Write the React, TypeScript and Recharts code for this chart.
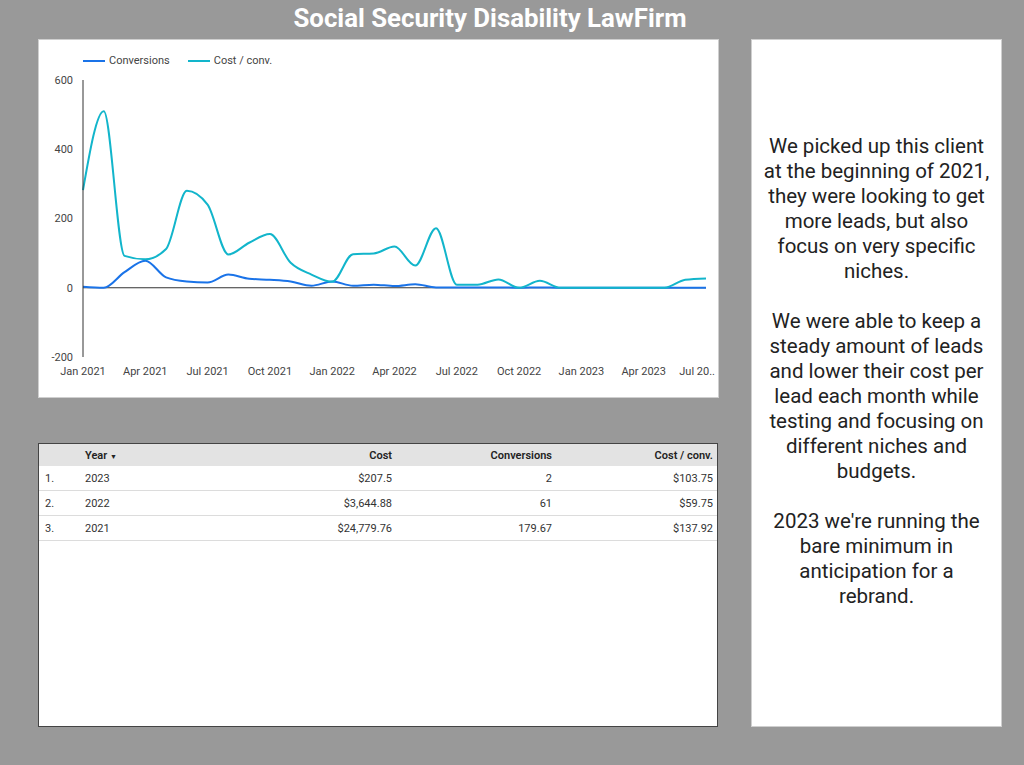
import { LineChart, Line, XAxis, YAxis, ReferenceLine, Legend } from "recharts";

// monthly series, Jan 2021 – Jul 2023
const months = [
  "Jan 2021", "Feb 2021", "Mar 2021", "Apr 2021", "May 2021", "Jun 2021",
  "Jul 2021", "Aug 2021", "Sep 2021", "Oct 2021", "Nov 2021", "Dec 2021",
  "Jan 2022", "Feb 2022", "Mar 2022", "Apr 2022", "May 2022", "Jun 2022",
  "Jul 2022", "Aug 2022", "Sep 2022", "Oct 2022", "Nov 2022", "Dec 2022",
  "Jan 2023", "Feb 2023", "Mar 2023", "Apr 2023", "May 2023", "Jun 2023",
  "Jul 2023",
];
const conversions = [
  3, 0, 45, 78, 30, 18, 15, 38, 26, 23, 18, 6,
  18, 6, 9, 5, 10, 1, 1, 1, 1, 0, 1, 0,
  0, 0, 0, 0, 0, 0, 0,
];
const costPerConv = [
  282, 510, 92, 82, 112, 280, 240, 96, 130, 155, 72, 38,
  17, 97, 99, 119, 64, 172, 9, 9, 24, 0, 20, 0,
  0, 0, 0, 0, 0, 23, 27,
];
const xTicks = [
  "Jan 2021", "Apr 2021", "Jul 2021", "Oct 2021", "Jan 2022", "Apr 2022",
  "Jul 2022", "Oct 2022", "Jan 2023", "Apr 2023", "Jul 2023",
];
const yTicks = [-200, 0, 200, 400, 600];

// table rows
const tableYears = ["2023", "2022", "2021"];
const tableCost = ["$207.5", "$3,644.88", "$24,779.76"];
const tableConversions = ["2", "61", "179.67"];
const tableCostPerConv = ["$103.75", "$59.75", "$137.92"];

const notes = [
  ["We picked up this client", "at the beginning of 2021,", "they were looking to get", "more leads, but also", "focus on very specific", "niches."],
  ["We were able to keep a", "steady amount of leads", "and lower their cost per", "lead each month while", "testing and focusing on", "different niches and", "budgets."],
  ["2023 we're running the", "bare minimum in", "anticipation for a", "rebrand."],
];

const colors = {
  conversions: "#1a73e8",
  costPerConv: "#12b5cb",
};

const chartData = months.map((m, i) => ({
  month: m,
  conversions: conversions[i],
  costPerConv: costPerConv[i],
}));

const font = "Roboto, 'Noto Sans', sans-serif";

const LegendContent = () => (
  <div style={{ display: "flex", fontFamily: font, fontSize: 11, color: "#444" }}>
    {[
      { label: "Conversions", color: colors.conversions },
      { label: "Cost / conv.", color: colors.costPerConv },
    ].map((item) => (
      <div key={item.label} style={{ display: "flex", alignItems: "center", marginRight: 18 }}>
        <svg width={22} height={4} style={{ marginRight: 4 }}>
          <line x1={0} y1={2} x2={22} y2={2} stroke={item.color} strokeWidth={2} />
        </svg>
        <span>{item.label}</span>
      </div>
    ))}
  </div>
);

// last label is shortened and pulled left so it stays inside the panel
const XTick = (props: any) => {
  const { x, y, payload } = props;
  const last = payload.value === xTicks[xTicks.length - 1];
  return (
    <text
      x={last ? x + 9 : x}
      y={y}
      dy={10}
      textAnchor={last ? "end" : "middle"}
      fill="#444"
      fontSize={11}
      fontFamily={font}
    >
      {last ? "Jul 20.." : payload.value}
    </text>
  );
};

const cellBase = {
  padding: "0 4px",
  height: 24,
  borderBottom: "1px solid #dcdcdc",
  whiteSpace: "nowrap" as const,
};

const headCell = {
  ...cellBase,
  height: 22,
  fontWeight: 600,
  borderBottom: "none",
};

const App = () => {
  return (
    <div
      style={{
        position: "fixed",
        left: 0,
        top: 0,
        width: 1024,
        height: 765,
        background: "#999999",
        fontFamily: font,
        overflow: "hidden",
      }}
    >
      <div
        style={{
          position: "absolute",
          left: 0,
          top: 3,
          width: 980,
          textAlign: "center",
          color: "#fff",
          fontWeight: 700,
          fontSize: 25.8,
          lineHeight: "31px",
        }}
      >
        Social Security Disability LawFirm
      </div>

      {/* chart panel */}
      <div
        style={{
          position: "absolute",
          left: 38,
          top: 39,
          width: 679,
          height: 357,
          background: "#fff",
          border: "1px solid #cfcfcf",
        }}
      >
        <LineChart
          width={679}
          height={357}
          data={chartData}
          margin={{ top: 27, right: 12, left: 0, bottom: 0 }}
        >
          <Legend
            verticalAlign="top"
            align="left"
            content={<LegendContent />}
            wrapperStyle={{ top: 14, left: 44, width: "auto" }}
          />
          <XAxis
            dataKey="month"
            ticks={xTicks}
            interval={0}
            axisLine={false}
            tickLine={false}
            height={40}
            tick={<XTick />}
          />
          <YAxis
            domain={[-200, 600]}
            ticks={yTicks}
            width={44}
            axisLine={{ stroke: "#333" }}
            tickLine={false}
            tickSize={8}
            tickMargin={2}
            tick={{ fill: "#444", fontSize: 11, fontFamily: font }}
          />
          <ReferenceLine y={0} stroke="#333" strokeWidth={1} />
          <Line
            type="monotone"
            dataKey="conversions"
            name="Conversions"
            stroke={colors.conversions}
            strokeWidth={2}
            dot={false}
            isAnimationActive={false}
          />
          <Line
            type="monotone"
            dataKey="costPerConv"
            name="Cost / conv."
            stroke={colors.costPerConv}
            strokeWidth={2}
            dot={false}
            isAnimationActive={false}
          />
        </LineChart>
      </div>

      {/* table panel */}
      <div
        style={{
          position: "absolute",
          left: 38,
          top: 443,
          width: 678,
          height: 282,
          background: "#fff",
          border: "1px solid #444",
          color: "#333",
        }}
      >
        <table
          style={{
            width: "100%",
            borderCollapse: "collapse",
            fontFamily: font,
            fontSize: 11,
            tableLayout: "fixed",
          }}
        >
          <colgroup>
            <col style={{ width: 42 }} />
            <col />
            <col style={{ width: 160 }} />
            <col style={{ width: 160 }} />
            <col style={{ width: 161 }} />
          </colgroup>
          <thead>
            <tr style={{ background: "#e3e3e3", color: "#222" }}>
              <th style={headCell}></th>
              <th style={{ ...headCell, textAlign: "left" }}>
                Year <span style={{ fontSize: 7, fontWeight: 400 }}>▼</span>
              </th>
              <th style={{ ...headCell, textAlign: "right" }}>Cost</th>
              <th style={{ ...headCell, textAlign: "right" }}>Conversions</th>
              <th style={{ ...headCell, textAlign: "right" }}>Cost / conv.</th>
            </tr>
          </thead>
          <tbody>
            {tableYears.map((year, i) => (
              <tr key={year}>
                <td style={{ ...cellBase, paddingLeft: 6 }}>{i + 1}.</td>
                <td style={{ ...cellBase, textAlign: "left" }}>{year}</td>
                <td style={{ ...cellBase, textAlign: "right" }}>{tableCost[i]}</td>
                <td style={{ ...cellBase, textAlign: "right" }}>{tableConversions[i]}</td>
                <td style={{ ...cellBase, textAlign: "right" }}>{tableCostPerConv[i]}</td>
              </tr>
            ))}
          </tbody>
        </table>
      </div>

      {/* notes panel */}
      <div
        style={{
          position: "absolute",
          left: 751,
          top: 39,
          width: 249,
          height: 686,
          background: "#fff",
          border: "1px solid #cfcfcf",
        }}
      >
        <div
          style={{
            position: "absolute",
            left: 0,
            top: 94,
            width: 249,
            textAlign: "center",
            fontSize: 20.5,
            lineHeight: "25px",
            color: "#222",
          }}
        >
          {notes.map((para, p) => (
            <div key={p} style={{ marginBottom: p < notes.length - 1 ? 25 : 0 }}>
              {para.map((line) => (
                <div key={line}>{line}</div>
              ))}
            </div>
          ))}
        </div>
      </div>
    </div>
  );
};

export default App;
